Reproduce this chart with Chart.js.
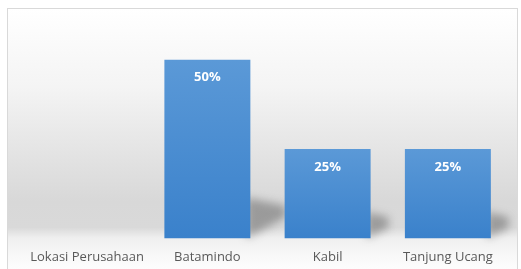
<!DOCTYPE html>
<html>
<head>
<meta charset="utf-8">
<script src="https://cdn.jsdelivr.net/npm/chart.js@4"></script>
<style>
  body { margin: 0; background: #fff; }
  #frame {
    position: absolute; left: 7px; top: 8px; width: 511px; height: 262px;
    border: 1px solid #d9d9d9; box-sizing: border-box;
    background: linear-gradient(to bottom, #ffffff 0%, #f4f4f4 30%, #e2e2e2 58%, #d8d8d8 74%, #d9d9d9 84%, #efefef 88%, #f8f8f8 95%, #fdfdfd 100%);
  }
  #myChart { position: absolute; left: 0; top: 0; }
</style>
</head>
<body>
<div id="frame"></div>
<canvas id="myChart" width="521" height="269"></canvas>
<script>
const categories = ["Lokasi Perusahaan", "Batamindo", "Kabil", "Tanjung Ucang"];
const shares = [null, 50, 25, 25];

// soft shadow on the "floor" to the right of each bar
const floorShadow = {
  id: "floorShadow",
  beforeDatasetsDraw(chart) {
    const ctx = chart.ctx;
    const meta = chart.getDatasetMeta(0);
    ctx.save();
    ctx.filter = "blur(4px)";
    ctx.fillStyle = "rgba(80,80,80,0.45)";
    meta.data.forEach((bar, i) => {
      if (shares[i] == null) return;
      const h = bar.base - bar.y;
      const right = bar.x + bar.width / 2;
      const len = h * 0.2;
      const lift = 12 + h * 0.16;
      ctx.beginPath();
      ctx.moveTo(right - 4, bar.base);
      ctx.lineTo(right - 4, bar.base - lift);
      ctx.lineTo(right + len, bar.base - lift * 0.8);
      ctx.lineTo(right + len, bar.base - len * 0.6);
      ctx.closePath();
      ctx.fill();
    });
    ctx.restore();
  }
};

const valueLabels = {
  id: "valueLabels",
  afterDatasetsDraw(chart) {
    const ctx = chart.ctx;
    const meta = chart.getDatasetMeta(0);
    ctx.save();
    ctx.font = 'bold 13px "Open Sans", sans-serif';
    ctx.fillStyle = "#ffffff";
    ctx.textAlign = "center";
    ctx.textBaseline = "middle";
    meta.data.forEach((bar, i) => {
      if (shares[i] == null) return;
      ctx.fillText(shares[i] + "%", bar.x, bar.y + 18);
    });
    ctx.restore();
  }
};

Chart.defaults.font.family = '"Open Sans", sans-serif';

let ctx = document.getElementById("myChart").getContext("2d");
let chart = new Chart(ctx, {
  type: "bar",
  data: {
    labels: categories,
    datasets: [
      {
        data: shares,
        backgroundColor: function(context) {
          const c = context.chart;
          const y = c.scales.y;
          if (!y || context.raw == null) return "#4a8dd2";
          const top = y.getPixelForValue(context.raw);
          const bottom = y.getPixelForValue(0);
          const g = c.ctx.createLinearGradient(0, top, 0, bottom);
          g.addColorStop(0, "#5b99d7");
          g.addColorStop(1, "#3a81cb");
          return g;
        },
        borderWidth: 0,
        categoryPercentage: 1,
        barPercentage: 0.715
      }
    ]
  },
  options: {
    responsive: false,
    animation: false,
    devicePixelRatio: 1,
    layout: { padding: { left: 27, right: 13, top: 24, bottom: -7 } },
    plugins: {
      legend: { display: false },
      tooltip: { enabled: false }
    },
    scales: {
      x: {
        grid: { display: false, drawTicks: false },
        border: { display: false },
        ticks: { color: "#595959", font: { size: 13 }, padding: 11, maxRotation: 0 }
      },
      y: {
        display: false,
        min: 0,
        max: 60
      }
    }
  },
  plugins: [floorShadow, valueLabels]
});
</script>
</body>
</html>
